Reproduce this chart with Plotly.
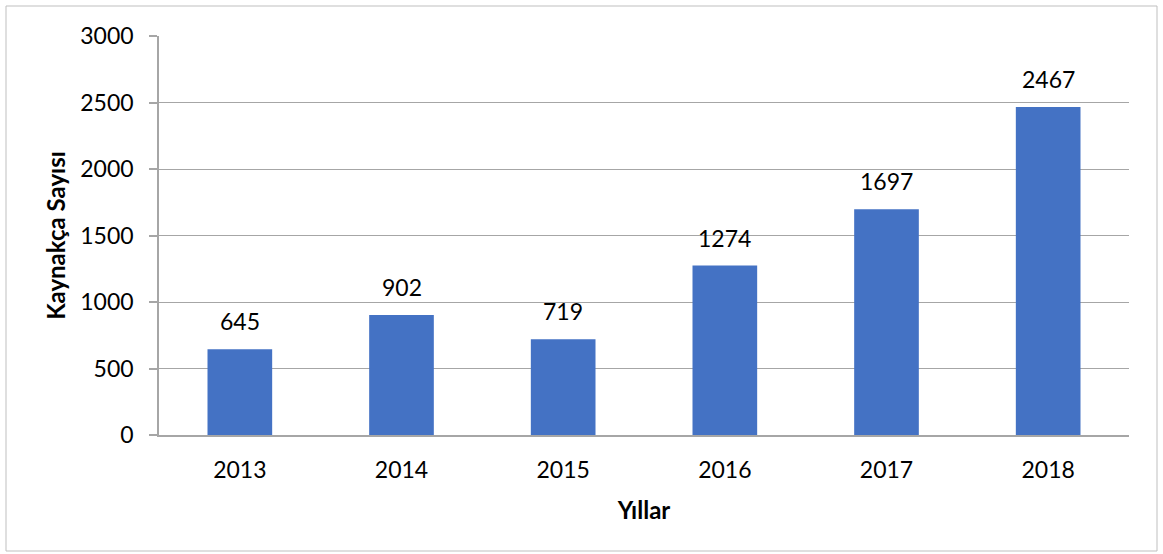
import plotly.graph_objects as go

years = ["2013", "2014", "2015", "2016", "2017", "2018"]
counts = [645, 902, 719, 1274, 1697, 2467]
y_ticks = [0, 500, 1000, 1500, 2000, 2500, 3000]

FONT = "Lato"
BAR = "#4472C4"
GRID = "#A6A6A6"

fig = go.Figure()
fig.add_trace(go.Bar(x=years, y=counts, marker=dict(color=BAR, line=dict(width=0)),
                     width=0.4, hoverinfo="x+y"))

for i, v in enumerate(counts):
    fig.add_annotation(x=i, y=v, text=str(v), showarrow=False, yanchor="bottom",
                       yshift=12, font=dict(family=FONT, size=23, color="#000000"))

W, H = 1163, 554
L, R, T, B = 159, 34, 36, 119
pw, ph = W - L - R, H - T - B

def px_x(p):
    return (p - L) / pw

def px_y(p):
    return (H - B - p) / ph

fig.add_shape(type="rect", xref="paper", yref="paper",
              x0=px_x(6), x1=px_x(1157), y0=px_y(551), y1=px_y(6),
              line=dict(color="#BFBFBF", width=1), fillcolor="rgba(0,0,0,0)", layer="below")

fig.update_layout(
    width=W, height=H,
    margin=dict(l=L, r=R, t=T, b=B, autoexpand=False),
    paper_bgcolor="white", plot_bgcolor="white",
    font=dict(family=FONT, size=23, color="#000000"),
    showlegend=False,
    xaxis=dict(
        type="category", categoryorder="array", categoryarray=years,
        range=[-0.5, len(years) - 0.5], automargin=False,
        showline=True, linecolor=GRID, linewidth=1.5,
        ticks="", showgrid=False,
        tickfont=dict(family=FONT, size=23),
        ticklabelstandoff=14,
        title=dict(text="<b>Yıllar</b>", font=dict(family=FONT, size=24), standoff=20),
    ),
    yaxis=dict(
        range=[0, 3000], tickvals=y_ticks, automargin=False,
        showline=True, linecolor=GRID, linewidth=1.5,
        ticks="outside", ticklen=8, tickcolor=GRID, tickwidth=1.5,
        showgrid=True, gridcolor=GRID, gridwidth=1,
        zeroline=False,
        tickfont=dict(family=FONT, size=23),
        ticklabelstandoff=11,
        title=dict(text="<b>Kaynakça Sayısı</b>", font=dict(family=FONT, size=24), standoff=8),
    ),
)

fig.write_html("out.html", config={"displayModeBar": False},
               post_script="document.body.style.margin='0';")
